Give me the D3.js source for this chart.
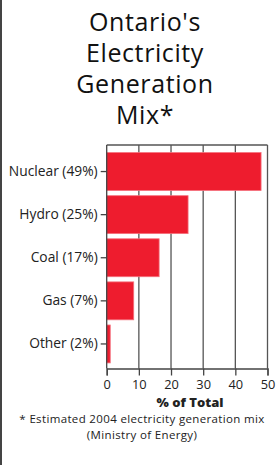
<!DOCTYPE html>
<html><head><meta charset="utf-8">
<script src="https://cdn.jsdelivr.net/npm/d3@7"></script>
<style>
html,body{margin:0;padding:0;background:#fff;}
svg{display:block;}
</style></head>
<body>
<script>
const titleLines = ["Ontario's", "Electricity", "Generation", "Mix*"];
const categories = ["Nuclear (49%)", "Hydro (25%)", "Coal (17%)", "Gas (7%)", "Other (2%)"];
const values = [48, 25.3, 16.3, 8.4, 1.1];
const xTicks = [0, 10, 20, 30, 40, 50];
const xLabel = "% of Total";
const footnote = ["* Estimated 2004 electricity generation mix", "(Ministry of Energy)"];

const W = 278, H = 465;
const font = "'Open Sans', Lato, sans-serif";
const svg = d3.select("body").append("svg").attr("width", W).attr("height", H);

// left border
svg.append("rect").attr("x", 0).attr("y", 0).attr("width", 2).attr("height", H).attr("fill", "#444");

// title
svg.append("g").selectAll("text").data(titleLines).join("text")
  .attr("x", 145).attr("y", (d, i) => 31 + i * 31)
  .attr("text-anchor", "middle")
  .attr("font-family", font).attr("font-size", 25).attr("fill", "#111")
  .attr("letter-spacing", 0.6)
  .text(d => d);

const x = d3.scaleLinear().domain([0, 50]).range([106.7, 267.5]);
const y = d3.scaleBand().domain(categories).range([150, 365.5]).paddingInner(0.12).paddingOuter(0.06);
const plotTop = 145, plotBottom = 368.5;

// gridlines
svg.append("g").selectAll("line").data(xTicks.slice(1)).join("line")
  .attr("x1", d => x(d)).attr("x2", d => x(d)).attr("y1", plotTop).attr("y2", plotBottom)
  .attr("stroke", "#555").attr("stroke-width", 1.3);
// top border
svg.append("line").attr("x1", x(0)).attr("x2", x(50)).attr("y1", plotTop).attr("y2", plotTop)
  .attr("stroke", "#555").attr("stroke-width", 1.3);

// bars
svg.append("g").selectAll("rect").data(values).join("rect")
  .attr("x", x(0)).attr("y", (d, i) => y(categories[i]))
  .attr("width", d => x(d) - x(0)).attr("height", y.bandwidth())
  .attr("fill", "#ee1c2e").attr("stroke", "#f5707c").attr("stroke-width", 0.8);

// x axis
const xAxis = svg.append("g").attr("transform", `translate(0,${plotBottom})`)
  .call(d3.axisBottom(x).tickValues(xTicks).tickSize(7).tickPadding(4));
xAxis.select(".domain").attr("stroke", "#444").attr("stroke-width", 1.3);
xAxis.selectAll(".tick line").attr("stroke", "#444").attr("stroke-width", 1.3);
xAxis.selectAll("text").attr("font-family", font).attr("font-size", 12.8).attr("fill", "#222");

// y axis
const yAxis = svg.append("g").attr("transform", `translate(${x(0)},0)`)
  .call(d3.axisLeft(y).tickSize(6).tickPadding(3));
yAxis.select(".domain").remove();
yAxis.append("line").attr("x1", 0).attr("x2", 0).attr("y1", plotTop).attr("y2", plotBottom)
  .attr("stroke", "#444").attr("stroke-width", 1.3);
yAxis.selectAll(".tick line").attr("stroke", "#444").attr("stroke-width", 1.3);
yAxis.selectAll("text").attr("font-family", font).attr("font-size", 13.8).attr("fill", "#222");

// x label
svg.append("text").attr("x", 190).attr("y", 406.5).attr("text-anchor", "middle")
  .attr("font-family", font).attr("font-size", 13).attr("font-weight", "800").attr("fill", "#222")
  .text(xLabel);

// footnote
svg.append("g").selectAll("text").data(footnote).join("text")
  .attr("x", 142).attr("y", (d, i) => 422.5 + i * 16.2).attr("text-anchor", "middle")
  .attr("font-family", font).attr("font-size", 11.5).attr("letter-spacing", 0.35).attr("fill", "#222")
  .text(d => d);
</script>
</body></html>
